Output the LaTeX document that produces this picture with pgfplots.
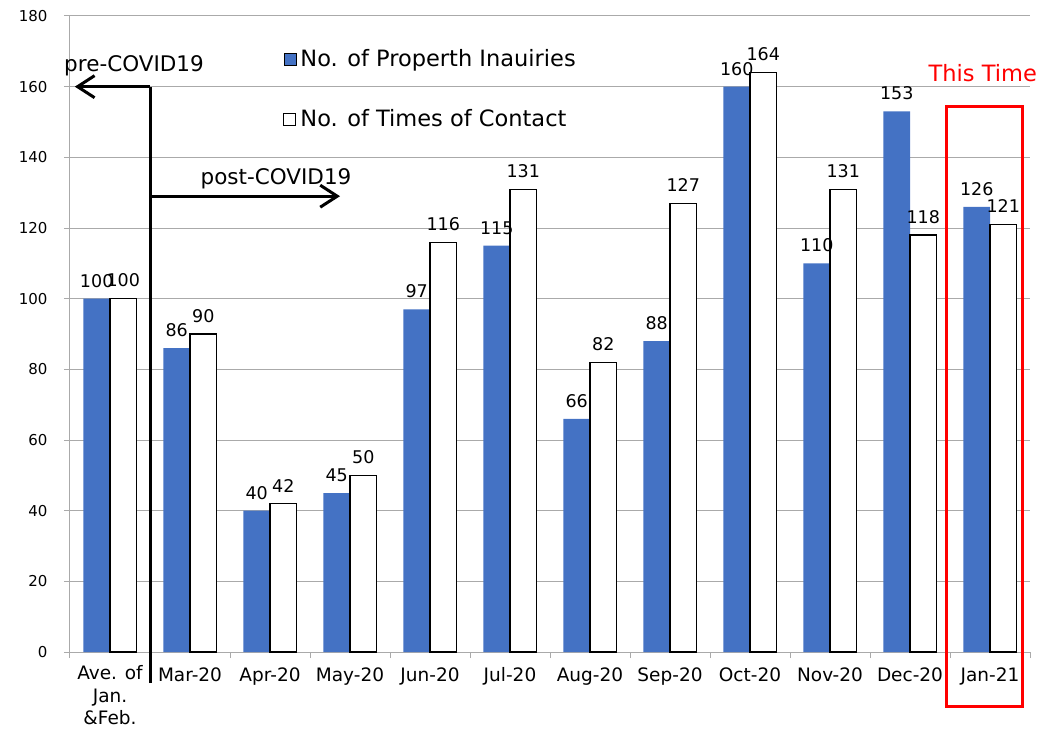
\documentclass[border=0pt]{standalone}
\usepackage{pgfplots}
\pgfplotsset{compat=1.18}
\usetikzlibrary{arrows.meta}
\usepackage{fontspec}
\setmainfont{DejaVu Sans}
\definecolor{barblue}{HTML}{4472C4}
\definecolor{gridgray}{HTML}{AAAAAA}
\begin{document}
\begin{tikzpicture}[font=\fontsize{15}{18}\selectfont]
\begin{axis}[
  scale only axis, width=960pt, height=636pt,
  xmin=-0.5, xmax=11.5, ymin=0, ymax=180,
  ytick={0,20,40,60,80,100,120,140,160,180},
  yticklabels={0,20,40,60,80,100,120,140,160,180},
  ymajorgrids, grid style={gridgray, line width=1pt},
  axis x line*=bottom, axis y line*=left,
  axis line style={gridgray, line width=1pt},
  xtick={0,...,11},
  xticklabels={{Ave. of\\Jan.\\\&Feb.},Mar-20,Apr-20,May-20,Jun-20,Jul-20,Aug-20,Sep-20,Oct-20,Nov-20,Dec-20,Jan-21},
  xticklabel style={align=center, font=\fontsize{18.5}{22.5}\selectfont, execute at begin node=\strut, yshift=-4.25pt},
  yticklabel style={font=\fontsize{15}{18}\selectfont, xshift=-13pt},
  major x tick style={draw=none},
  minor xtick={-0.5,0.5,...,11.5},
  minor x tick style={gridgray, line width=1pt},
  minor tick length=6pt,
  major tick length=6pt,
  y tick style={gridgray, line width=1pt},
  tick align=outside,
  /pgf/number format/assume math mode=true,
  ybar=0pt, bar width=26.6pt,
  nodes near coords={\pgfmathprintnumber[assume math mode=true]{\pgfplotspointmeta}},
  nodes near coords style={font=\fontsize{17.5}{20}\selectfont, inner sep=2pt, yshift=9pt},
  clip=false,
  legend style={at={(0.2219,0.9506)}, anchor=north west, draw=none, fill=none,
    font=\fontsize{22.5}{27}\selectfont,
    row sep=37.6pt, inner sep=0pt},
  legend cell align=left,
  legend image code/.code={\draw[#1] (0pt,-6pt) rectangle (12pt,6pt); \path (14pt,0pt);},
]
\addplot[fill=barblue, draw=none] coordinates {(0,100) (1,86) (2,40) (3,45) (4,97) (5,115) (6,66) (7,88) (8,160) (9,110) (10,153) (11,126)};
\addplot[fill=white, draw=black, line width=1.2pt] coordinates {(0,100) (1,90) (2,42) (3,50) (4,116) (5,131) (6,82) (7,127) (8,164) (9,131) (10,118) (11,121)};
\legend{No. of Properth Inauiries, No. of Times of Contact}
\draw[line width=3pt] (axis cs:0.5,-8.8) -- (axis cs:0.5,160);
\draw[line width=3pt, -{Straight Barb[length=17pt,width=22pt,line width=3pt]}] (axis cs:0.5,160) -- (axis cs:-0.44,160);
\draw[line width=3pt, -{Straight Barb[length=17pt,width=22pt,line width=3pt]}] (axis cs:0.5,129) -- (axis cs:2.875,129);
\node[font=\fontsize{21.5}{26}\selectfont] at (axis cs:0.30,165.8) {pre-COVID19};
\node[font=\fontsize{21.5}{26}\selectfont] at (axis cs:2.075,133.8) {post-COVID19};
\node[red, font=\fontsize{22.5}{27}\selectfont] at (axis cs:10.91,163.7) {This Time};
\draw[red, line width=3pt] (axis cs:10.46,154.5) rectangle (axis cs:11.4,-15.3);
\end{axis}
\pgfresetboundingbox
\path (current axis.south west) ++(-70pt,-80pt) rectangle ++(1052pt,732pt);
\end{tikzpicture}
\end{document}
